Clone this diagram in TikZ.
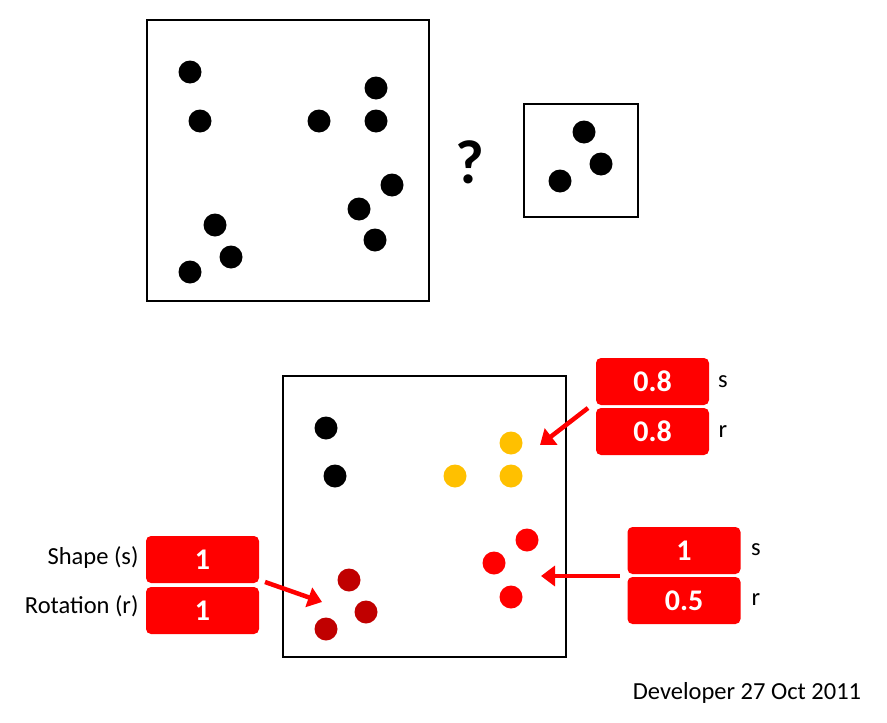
\documentclass[tikz,border=0pt]{standalone}
\usepackage{fontspec}
\setmainfont{Carlito}
\usetikzlibrary{arrows.meta}
\definecolor{dred}{HTML}{C00000}
\definecolor{ylw}{HTML}{FFC000}
\begin{document}
\begin{tikzpicture}[x=1pt,y=-1pt,
  dot/.style={circle,fill=black,minimum size=23pt,inner sep=0pt},
  frame/.style={draw=black,line width=1.8pt},
  val/.style={draw=none,fill=red,rounded corners=5pt,minimum width=113pt,minimum height=47pt,text=white,font=\bfseries\fontsize{30}{34}\selectfont},
  lab/.style={font=\fontsize{24.5}{28}\selectfont},
  arr/.style={draw=red,line width=4.5pt,-{Triangle[length=14pt,width=20pt]}}]
\useasboundingbox (0,0) rectangle (887,723);
\draw[frame] (147,20) rectangle (429,301);
\foreach \p [count=\i] in {(190,72),(200,121),(319,121),(376,88),(376,121),(392,185),(359,209),(375,240),(215,225),(231,257),(190,272)}
  \node[dot] (t\i) at \p {};
\node[font=\bfseries\fontsize{62}{70}\selectfont] (q) at (470,162) {?};
\draw[frame] (524,104) rectangle (638,217);
\node[dot] (s1) at (584,132) {};
\node[dot] (s2) at (601,164) {};
\node[dot] (s3) at (560,181) {};
\draw[frame] (283,376) rectangle (566,657);
\node[dot] (b1) at (326,428) {};
\node[dot] (b2) at (335,476) {};
\node[dot,fill=ylw] (y1) at (511,443) {};
\node[dot,fill=ylw] (y2) at (455,476) {};
\node[dot,fill=ylw] (y3) at (511,476) {};
\node[dot,fill=red] (r1) at (527,540) {};
\node[dot,fill=red] (r2) at (494,563) {};
\node[dot,fill=red] (r3) at (511,597) {};
\node[dot,fill=dred] (d1) at (349,580) {};
\node[dot,fill=dred] (d2) at (366,612) {};
\node[dot,fill=dred] (d3) at (326,629) {};
\node[val] (v1) at (652.5,381.5) {0.8};
\node[val] (v2) at (652.5,431.5) {0.8};
\node[lab] (l1) at (723,382) {s};
\node[lab] (l2) at (723,432) {r};
\coordinate (a1s) at (588,408);
\coordinate (a1e) at (540,445);
\draw[arr] (a1s) -- (a1e);
\node[val] (v3) at (684,550.5) {1};
\node[val] (v4) at (684,600.5) {0.5};
\node[lab] (l3) at (756,550) {s};
\node[lab] (l4) at (756,600) {r};
\coordinate (a2s) at (620,576);
\coordinate (a2e) at (541,576);
\draw[arr] (a2s) -- (a2e);
\node[val] (v5) at (202.5,559.5) {1};
\node[val] (v6) at (202.5,610.5) {1};
\node[lab,anchor=east] (l5) at (142,558) {Shape (s)};
\node[lab,anchor=east] (l6) at (142,606) {Rotation (r)};
\coordinate (a3s) at (265,582);
\coordinate (a3e) at (322,602);
\draw[arr] (a3s) -- (a3e);
\node[lab] (dev) at (747,693) {Developer 27 Oct 2011};
\end{tikzpicture}
\end{document}
